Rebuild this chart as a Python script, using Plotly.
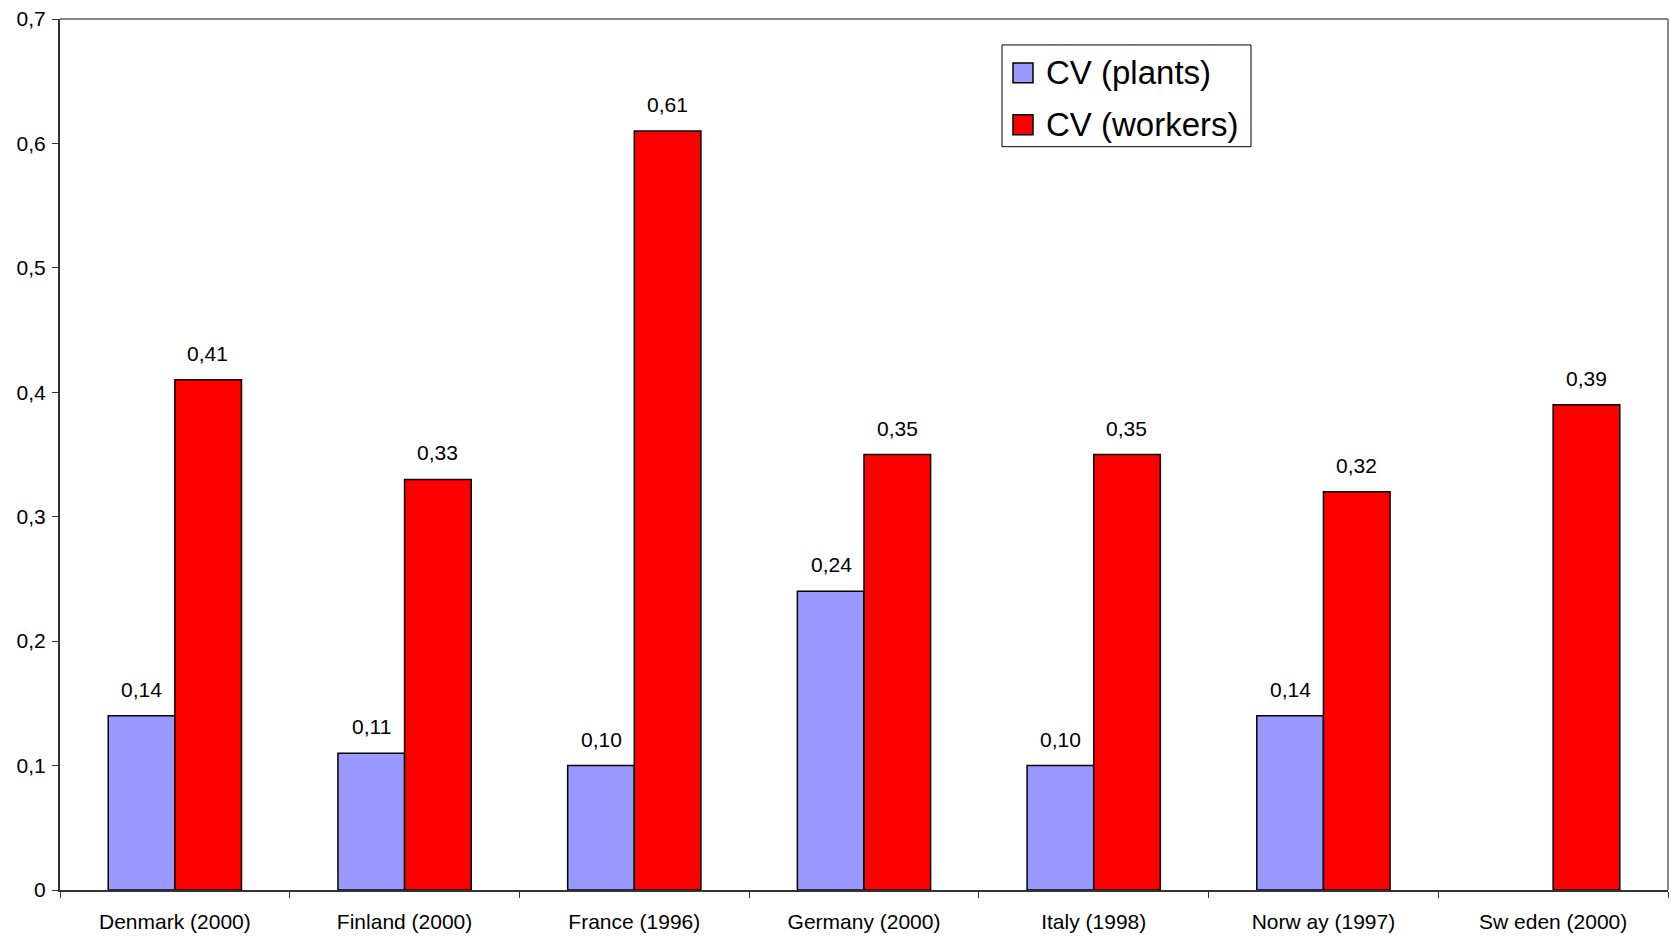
import plotly.graph_objects as go

countries = ["Denmark (2000)", "Finland (2000)", "France (1996)", "Germany (2000)",
             "Italy (1998)", "Norw ay (1997)", "Sw eden (2000)"]
cv_plants = [0.14, 0.11, 0.10, 0.24, 0.10, 0.14, None]
cv_workers = [0.41, 0.33, 0.61, 0.35, 0.35, 0.32, 0.39]
series_names = ["CV (plants)", "CV (workers)"]
series_colors = ["#9999ff", "#ff0000"]

FONT = "Liberation Sans, Arial, sans-serif"
W, H = 1671, 936
ML, MR, MT, MB = 60, 3, 19, 44
BAR_PX = 66  # approximate drawn bar width, used to centre value labels


def px_x(px):
    return (px - ML) / (W - ML - MR)


def px_y(py):
    return (H - MB - py) / (H - MT - MB)


fig = go.Figure()
for name, vals, col in zip(series_names, (cv_plants, cv_workers), series_colors):
    fig.add_trace(go.Bar(name=name, x=countries, y=vals, showlegend=False,
                         marker=dict(color=col, line=dict(color="#000000", width=1.5))))

# value labels above each bar
for series, shift in ((cv_plants, -BAR_PX / 2), (cv_workers, BAR_PX / 2)):
    for c, v in zip(countries, series):
        if v is None:
            continue
        fig.add_annotation(x=c, y=v, text=f"{v:.2f}".replace(".", ","),
                           showarrow=False, xshift=shift, yshift=13, yanchor="bottom",
                           font=dict(family=FONT, size=21, color="#000000"))

# grey frame on top and right
fig.add_shape(type="line", xref="paper", yref="paper", x0=0, x1=1, y0=1, y1=1,
              line=dict(color="#888888", width=2))
fig.add_shape(type="line", xref="paper", yref="paper", x0=1, x1=1, y0=0, y1=1,
              line=dict(color="#888888", width=2))

# legend box with large swatches
fig.add_shape(type="rect", xref="paper", yref="paper",
              x0=px_x(1002), x1=px_x(1251), y0=px_y(147), y1=px_y(45),
              line=dict(color="#000000", width=1), fillcolor="white")
for i, (name, col) in enumerate(zip(series_names, series_colors)):
    cy = 73 + 52 * i
    fig.add_shape(type="rect", xref="paper", yref="paper",
                  x0=px_x(1013), x1=px_x(1033), y0=px_y(cy + 10), y1=px_y(cy - 10),
                  line=dict(color="#000000", width=1.5), fillcolor=col)
    fig.add_annotation(xref="paper", yref="paper", x=px_x(1044), y=px_y(cy),
                       text=name, showarrow=False, xanchor="left", yanchor="middle",
                       font=dict(family=FONT, size=33, color="#000000"))

fig.update_layout(
    width=W, height=H,
    margin=dict(l=ML, r=MR, t=MT, b=MB),
    plot_bgcolor="white", paper_bgcolor="white",
    separators=", ",
    barmode="group", bargap=0.42, bargroupgap=0,
    font=dict(family=FONT, size=21, color="#000000"),
    showlegend=False,
)
fig.update_xaxes(showline=True, linecolor="#333333", linewidth=2,
                 ticks="outside", tickson="boundaries", ticklen=6, tickcolor="#333333",
                 ticklabelstandoff=12, tickfont=dict(size=21))
fig.update_yaxes(range=[0, 0.7], dtick=0.1, showgrid=False, zeroline=False,
                 showline=True, linecolor="#333333", linewidth=2,
                 ticks="outside", ticklen=6, tickcolor="#333333",
                 ticklabelstandoff=2, tickfont=dict(size=21))

fig.write_html("out.html")
